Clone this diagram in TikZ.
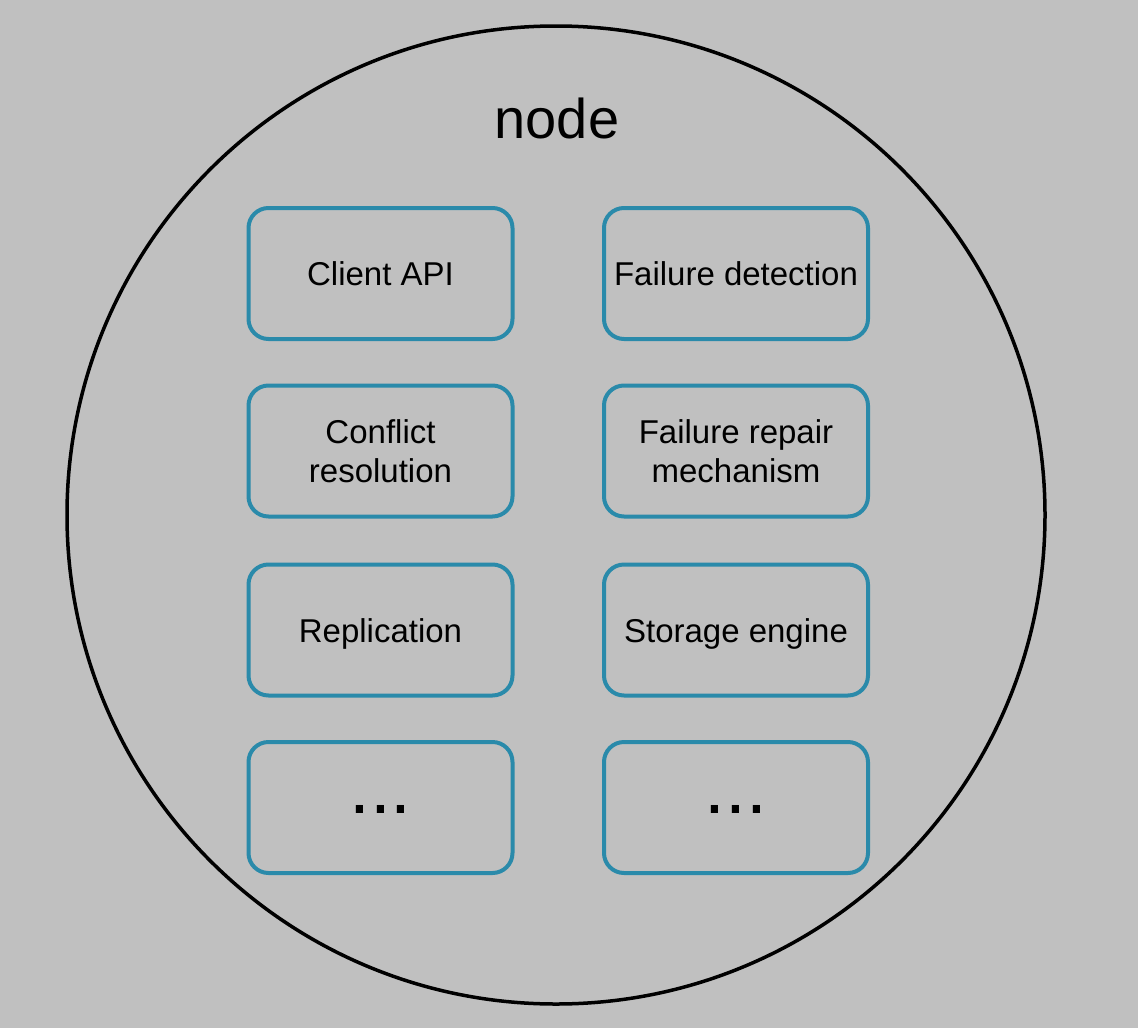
\documentclass[tikz,border=0pt]{standalone}
\usepackage{fontspec}
\setmainfont{Liberation Sans}
\definecolor{bggray}{HTML}{C0C0C0}
\definecolor{tealb}{HTML}{2A8AAA}
\begin{document}
\begin{tikzpicture}[x=1pt,y=1pt,
  comp/.style={draw=tealb,line width=4pt,rounded corners=20pt,minimum width=264pt,minimum height=131pt,inner sep=0pt,align=center,font=\fontsize{33}{39}\selectfont,text=black},
  oneline/.style={comp,text height=24pt,text depth=0pt},
  dots/.style={font=\fontsize{75}{80}\selectfont}]
\fill[bggray] (0,0) rectangle (1138,-1028);
\useasboundingbox (0,0) rectangle (1138,-1028);
\node[draw=black,line width=3.5pt,circle,minimum size=978pt,inner sep=0pt] (nodecircle) at (556,-515) {};
\node[font=\fontsize{56}{60}\selectfont] (title) at (557,-118) {node};
\node[oneline] (api) at (380.5,-273.5) {Client API};
\node[oneline] (fd) at (736,-273.5) {Failure detection};
\node[comp] (cr) at (380.5,-451) {Conflict\\resolution};
\node[comp] (frm) at (736,-451) {Failure repair\\mechanism};
\node[oneline] (rep) at (380.5,-630) {Replication};
\node[oneline] (se) at (736,-630) {Storage engine};
\node[comp] (e1) at (380.5,-807.5) {};
\node[comp] (e2) at (736,-807.5) {};
\node[dots,anchor=base] (d1) at (380.5,-813) {...};
\node[dots,anchor=base] (d2) at (736,-813) {...};
\end{tikzpicture}
\end{document}
